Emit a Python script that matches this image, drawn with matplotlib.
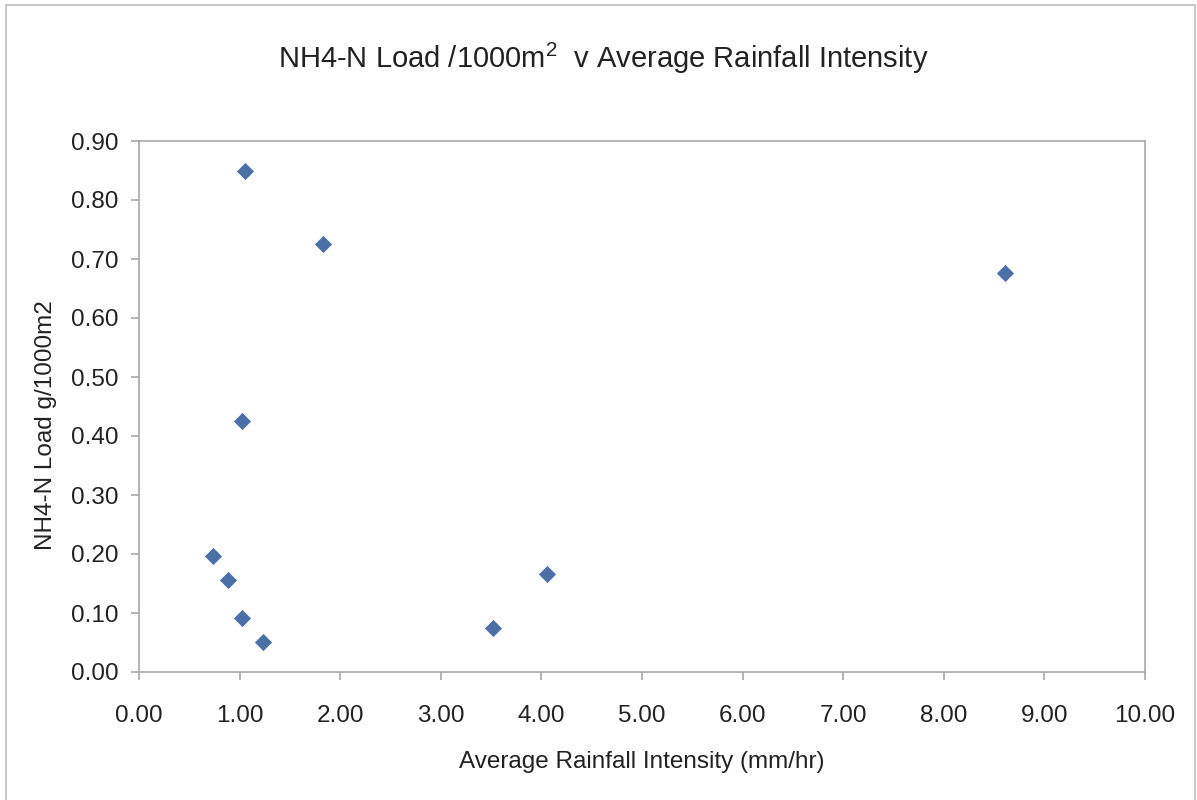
import matplotlib
matplotlib.use("Agg")
import matplotlib.pyplot as plt
from matplotlib.patches import Rectangle

plt.rcParams['font.family'] = ['Liberation Sans', 'DejaVu Sans']
plt.rcParams['mathtext.fontset'] = 'custom'
plt.rcParams['mathtext.rm'] = 'Liberation Sans'

# Average rainfall intensity (mm/hr) and NH4-N load (g/1000m2) per event
rain_intensity = [1.05, 1.83, 1.02, 0.74, 0.885, 1.02, 1.23, 3.52, 4.06, 8.61]
nh4_load = [0.85, 0.725, 0.425, 0.197, 0.156, 0.091, 0.051, 0.075, 0.166, 0.676]

x_ticks = [0, 1, 2, 3, 4, 5, 6, 7, 8, 9, 10]
y_ticks = [0.0, 0.1, 0.2, 0.3, 0.4, 0.5, 0.6, 0.7, 0.8, 0.9]

W, H = 1197, 800
fig = plt.figure(figsize=(W / 100, H / 100), dpi=100)
fig.patch.set_facecolor('white')

# outer chart border (bottom edge runs off the page)
fig.add_artist(Rectangle((6 / W, -0.02), (1195 - 6) / W, 1.02 - 5 / H,
                         transform=fig.transFigure, fill=False,
                         edgecolor='#c8c8c8', linewidth=1.5))

ax = fig.add_axes([139 / W, 1 - 672 / H, (1145 - 139) / W, (672 - 141) / H])
ax.scatter(rain_intensity, nh4_load, marker='D', s=68, color='#4c6fa8',
           edgecolors='#4c6fa8', linewidths=0.5, zorder=3)

ax.set_xlim(0, 10)
ax.set_ylim(0, 0.9)
ax.set_xticks(x_ticks)
ax.set_yticks(y_ticks)
ax.set_xticklabels([f"{v:.2f}" for v in x_ticks])
ax.set_yticklabels([f"{v:.2f}" for v in y_ticks])

for s in ax.spines.values():
    s.set_color('#a8a8a8')
    s.set_linewidth(1.2)
ax.tick_params(axis='both', direction='out', length=6, width=1.2,
               color='#a8a8a8', labelsize=17.5, labelcolor='#222222')
ax.tick_params(axis='x', pad=18)
ax.tick_params(axis='y', pad=9)

fig.text(642 / W, 1 - 762 / H, 'Average Rainfall Intensity (mm/hr)',
         ha='center', va='center', fontsize=17.5, color='#222222')
fig.text(46 / W, 1 - 425 / H, 'NH4-N Load g/1000m2', rotation=90,
         ha='center', va='center', fontsize=17.5, color='#222222')

fig.text(603 / W, 1 - 58 / H,
         r'NH4-N Load /1000m$^{\mathrm{2}}$  v Average Rainfall Intensity',
         ha='center', va='center', fontsize=21, color='#222222')

fig.savefig('out.png', dpi=100, facecolor='white')
